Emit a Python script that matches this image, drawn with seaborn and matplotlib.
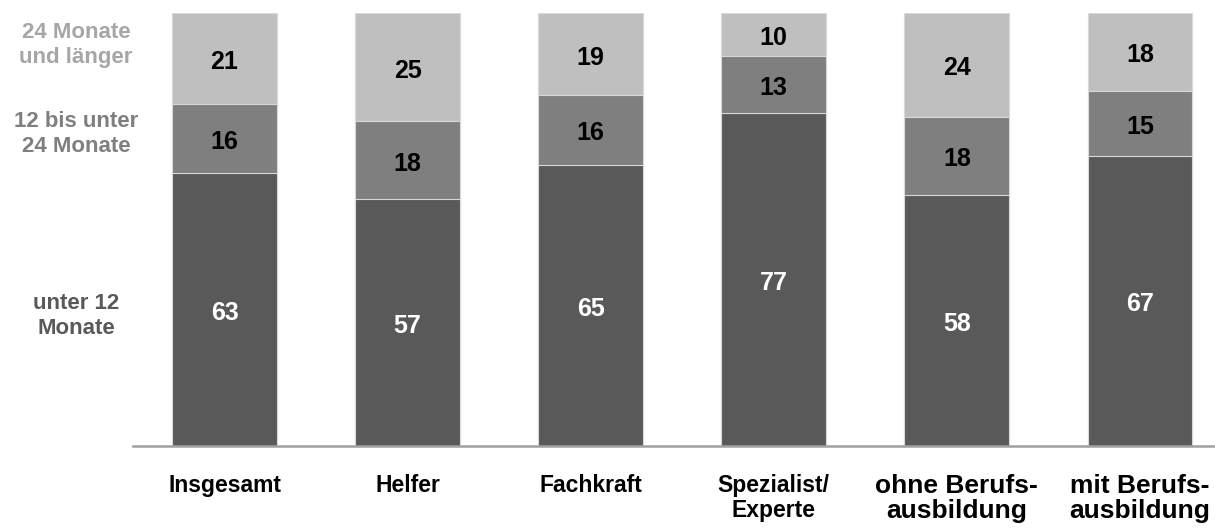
import numpy as np
import pandas as pd
import seaborn as sns
import matplotlib.pyplot as plt

# Data
categories = ["Insgesamt", "Helfer", "Fachkraft", "Spezialist/\nExperte",
              "ohne Berufs-\nausbildung", "mit Berufs-\nausbildung"]
unter_12 = [63, 57, 65, 77, 58, 67]
bis_24 = [16, 18, 16, 13, 18, 15]
ab_24 = [21, 25, 19, 10, 24, 18]
series_names = ["unter 12\nMonate", "12 bis unter\n24 Monate", "24 Monate\nund länger"]

c_dark, c_mid, c_light = "#595959", "#7f7f7f", "#bfbfbf"

sns.set_theme(style="white")
plt.rcParams["font.family"] = ["Liberation Sans", "DejaVu Sans"]
plt.rcParams["font.weight"] = "bold"

df = pd.DataFrame({"cat": categories, "a": unter_12, "b": bis_24, "c": ab_24})
df["ab"] = df["a"] + df["b"]
df["abc"] = df["ab"] + df["c"]

fig = plt.figure(figsize=(12.15, 5.28), dpi=100)
W, H = 1215, 528
ax = fig.add_axes([133 / W, (H - 446) / H, 1 - 133 / W, (446 - 13) / H])

# stacked bars drawn as overlapping cumulative bars
bar_kw = dict(width=0.572, edgecolor="#d9d9d9", linewidth=0.8, saturation=1, ax=ax)
sns.barplot(data=df, x="cat", y="abc", color=c_light, **bar_kw)
sns.barplot(data=df, x="cat", y="ab", color=c_mid, **bar_kw)
sns.barplot(data=df, x="cat", y="a", color=c_dark, **bar_kw)

ax.set_ylim(0, 100)
ax.set_xlim(-0.5, 5.41)
ax.set_xlabel("")
ax.set_ylabel("")
ax.set_yticks([])
sns.despine(ax=ax, left=True, top=True, right=True)
ax.spines["bottom"].set_color("#a0a0a0")
ax.spines["bottom"].set_linewidth(1.8)

ax.tick_params(axis="x", length=0, pad=20)
ax.set_xticks(range(len(categories)))
ax.set_xticklabels(categories, fontsize=16.5, fontweight="bold", color="black",
                   va="top", linespacing=1.15)
for lbl in ax.get_xticklabels()[4:]:
    lbl.set_fontsize(19)
    lbl.set_linespacing(1.08)

# value labels (sit a little below the segment middle)
off = 0.8
for i in range(len(categories)):
    ax.text(i, df["a"][i] / 2 - off, str(unter_12[i]), ha="center", va="center",
            color="white", fontsize=18, fontweight="bold")
    ax.text(i, df["a"][i] + bis_24[i] / 2 - off, str(bis_24[i]), ha="center", va="center",
            color="black", fontsize=18, fontweight="bold")
    ax.text(i, df["ab"][i] + ab_24[i] / 2 - off, str(ab_24[i]), ha="center", va="center",
            color="black", fontsize=18, fontweight="bold")

# series labels on the left
label_y = [316, 134, 45]
label_col = [c_dark, c_mid, "#a6a6a6"]
for name, y, col in zip(series_names, label_y, label_col):
    fig.text(76 / W, 1 - y / H, name, ha="center", va="center", color=col,
             fontsize=16, fontweight="bold", linespacing=1.25)

fig.savefig("out.png", dpi=100)
